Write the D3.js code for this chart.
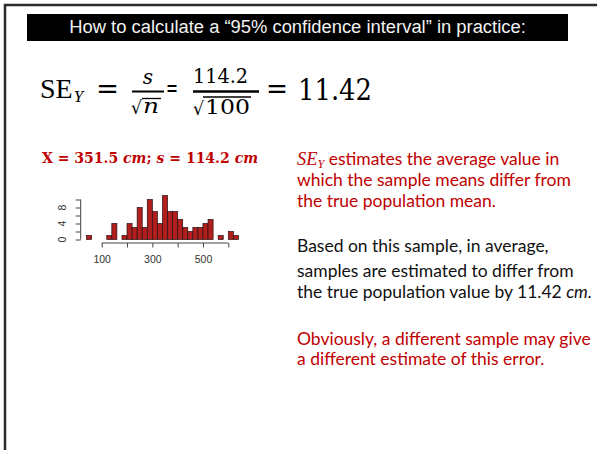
<!DOCTYPE html>
<html><head><meta charset="utf-8">
<script src="https://cdn.jsdelivr.net/npm/d3@7"></script>
<style>html,body{margin:0;padding:0;background:#fff;}svg{display:block;}</style>
</head><body>
<svg id="c" width="597" height="450"></svg>
<script>
// ---- data ----
const binStarts = [40,60,80,100,120,140,160,180,200,220,240,260,280,300,320,340,360,380,400,420,440,460,480,500,520,540,560,580,600,620];
const binWidth = 20;
const counts   = [1,0,0,0,1,4,0,1,4,3,8,3,10,7,4,11,7,7,5,3,2,3,3,4,5,0,1,0,2,1];
const xTicks = [100,200,300,400,500,600];
const xTickLabels = ["100","","300","","500",""];
const yTicks = [0,2,4,6,8,10];
const yTickLabels = ["0","","4","","8",""];
const titleText = "How to calculate a \u201c95% confidence interval\u201d in practice:";
const redPara = ["estimates the average value in","which the sample means differ from","the true population mean."];
const blackPara = ["Based on this sample, in average,","samples are estimated to differ from","the true population value by 11.42 "];
const redPara2 = ["Obviously, a different sample may give","a different estimate of this error."];

const svg = d3.select("#c");
const RED = "#c00000";

// frame
svg.append("path").attr("d","M5,452 L5,5 L600,5").attr("fill","none").attr("stroke","#2a2a2a").attr("stroke-width",2.5);

// title bar
svg.append("rect").attr("x",27).attr("y",14).attr("width",541).attr("height",27).attr("fill","#000");
const tt = svg.append("text").attr("x",297.5).attr("y",33).attr("text-anchor","middle")
  .attr("font-family","Liberation Sans, Arial, sans-serif").attr("font-size",18).attr("fill","#f2f2f2").text(titleText);
{ const w = tt.node().getComputedTextLength(); tt.attr("font-size", 18*457/w); }

// formula
const SERIF = "DejaVu Serif, serif";
function txt(x,y,s,size,opts={}){
  const t = svg.append("text").attr("x",x).attr("y",y).attr("font-family",opts.family||SERIF)
    .attr("font-size",size).attr("fill",opts.fill||"#000").text(s);
  if(opts.italic) t.attr("font-style","italic");
  if(opts.bold) t.attr("font-weight","bold");
  if(opts.anchor) t.attr("text-anchor",opts.anchor);
  if(opts.len){ t.attr("textLength",opts.len).attr("lengthAdjust","spacingAndGlyphs"); }
  return t;
}
{
  const t = svg.append("text").attr("x",40).attr("y",98).attr("font-family","Liberation Serif, serif").attr("fill","#000");
  t.append("tspan").attr("font-size",28).text("SE");
  t.append("tspan").attr("font-size",17).attr("font-style","italic").attr("dx",1).attr("dy",4).text("Y");
}
txt(96,98,"=",28,{len:23});
txt(148,84,"s",20,{italic:true,anchor:"middle"});
svg.append("line").attr("x1",132).attr("x2",164).attr("y1",91.5).attr("y2",91.5).attr("stroke","#000").attr("stroke-width",2);
txt(131,114,"\u221a",18,{len:11});
txt(143,113,"n",20,{italic:true,len:16});
svg.append("line").attr("x1",142).attr("x2",161).attr("y1",98.5).attr("y2",98.5).attr("stroke","#000").attr("stroke-width",1.3);
txt(166,96,"=",24,{len:12});
txt(193,83,"114.2",20,{len:55});
svg.append("line").attr("x1",193).attr("x2",259).attr("y1",91.5).attr("y2",91.5).attr("stroke","#000").attr("stroke-width",2.4);
txt(193,115,"\u221a",18,{len:11});
txt(205,114,"100",20,{len:45});
svg.append("line").attr("x1",203).attr("x2",251).attr("y1",97).attr("y2",97).attr("stroke","#000").attr("stroke-width",1.3);
txt(266,98,"=",28,{len:22});
txt(298,100,"11.42",30,{len:74});

// red stats line
{
  const t = svg.append("text").attr("x",42).attr("y",163).attr("font-family",SERIF).attr("font-size",14)
    .attr("font-weight","bold").attr("fill",RED);
  t.append("tspan").text("X = 351.5 ");
  t.append("tspan").attr("font-style","italic").text("cm");
  t.append("tspan").text("; ");
  t.append("tspan").attr("font-style","italic").text("s");
  t.append("tspan").text(" = 114.2 ");
  t.append("tspan").attr("font-style","italic").text("cm");
  t.attr("textLength",216).attr("lengthAdjust","spacingAndGlyphs");
}

// histogram
const x = d3.scaleLinear().domain([100,600]).range([101.7,228.3]);
const y = d3.scaleLinear().domain([0,10]).range([239.5,199.5]);
svg.append("g").selectAll("rect").data(counts.map((c,i)=>({x0:binStarts[i],x1:binStarts[i]+binWidth,c})).filter(d=>d.c>0))
  .join("rect")
  .attr("x",d=>x(d.x0)).attr("width",d=>x(d.x1)-x(d.x0))
  .attr("y",d=>y(d.c)).attr("height",d=>y(0)-y(d.c))
  .attr("fill","#b01e1e").attr("stroke","#2a1010").attr("stroke-width",0.7);

const AX = "#444";
const gx = svg.append("g").attr("transform","translate(0,243)")
  .call(d3.axisBottom(x).tickValues(xTicks).tickSize(4.5).tickPadding(8).tickFormat((d,i)=>xTickLabels[i]));
gx.select(".domain").attr("stroke",AX).attr("d",`M${x(100)},0H${x(600)}`);
gx.selectAll(".tick line").attr("stroke",AX);
gx.selectAll(".tick text").attr("fill","#333").attr("font-family","Liberation Sans, Arial, sans-serif").attr("font-size",10.5);

const gy = svg.append("g").attr("transform","translate(80.7,0)")
  .call(d3.axisLeft(y).tickValues(yTicks).tickSize(5).tickFormat(""));
gy.select(".domain").attr("stroke",AX).attr("d",`M0,${y(0)}V${y(10)}`);
gy.selectAll(".tick line").attr("stroke",AX);
svg.append("g").selectAll("text").data(yTicks.map((v,i)=>({v,l:yTickLabels[i]})).filter(d=>d.l))
  .join("text").attr("transform",d=>`translate(66,${y(d.v)}) rotate(-90)`)
  .attr("text-anchor","middle").attr("fill","#333")
  .attr("font-family","Liberation Sans, Arial, sans-serif").attr("font-size",10.5).text(d=>d.l);

// right paragraphs
const SANS = "Lato, Carlito, Calibri, sans-serif";
const probe = svg.append("text").attr("font-family",SANS).attr("font-size",16).text(redPara[1]);
const fs = 16*274/probe.node().getComputedTextLength();
probe.remove();
function line(xp,yp,s,fill){ return svg.append("text").attr("x",xp).attr("y",yp).attr("font-family",SANS).attr("font-size",fs).attr("fill",fill).text(s); }
{
  const t = svg.append("text").attr("x",297).attr("y",164.5).attr("font-size",fs).attr("fill",RED);
  t.append("tspan").attr("font-family","Liberation Serif, serif").attr("font-style","italic").attr("font-size",fs*1.05).text("SE");
  t.append("tspan").attr("font-family","Liberation Serif, serif").attr("font-style","italic").attr("font-size",fs*0.7).attr("dy",3).text("Y");
  t.append("tspan").attr("font-family",SANS).attr("dy",-3).text(" "+redPara[0]);
}
line(297,186,redPara[1],RED);
line(297,206.5,redPara[2],RED);
line(297,251.5,blackPara[0],"#111");
line(297,277,blackPara[1],"#111");
{
  const t = line(297,297.5,blackPara[2],"#111");
  t.append("tspan").attr("font-style","italic").text("cm.");
}
line(297,344.5,redPara2[0],RED);
line(297,365,redPara2[1],RED);
</script>
</body></html>
